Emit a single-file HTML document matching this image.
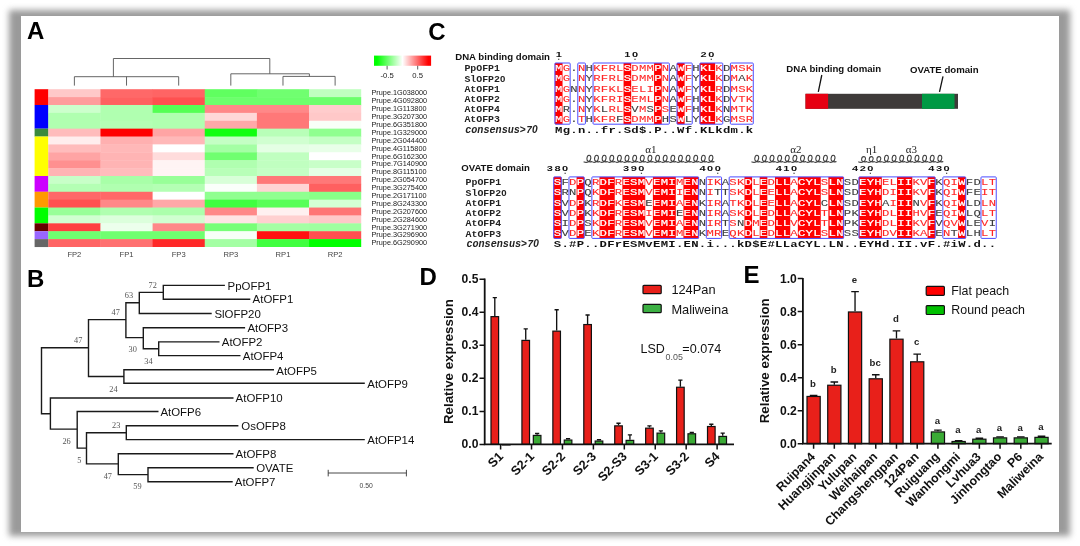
<!DOCTYPE html>
<html lang="en"><head><meta charset="utf-8"><title>Figure</title>
<style>html,body{margin:0;padding:0;background:#fff;}body{width:1080px;height:546px;overflow:hidden;position:relative;}#shadow{position:absolute;left:8.6px;top:10.4px;width:1061.6px;height:525.6px;background:#9a9a9a;filter:blur(3px);}#card{position:absolute;left:20.6px;top:15.8px;width:1038.6px;height:515.8px;background:#fff;}svg{position:absolute;left:0;top:0;display:block;}</style></head><body>
<div id="shadow"></div><div id="card"></div>
<svg width="1080" height="546" viewBox="0 0 1080 546">
<defs><linearGradient id="hmgrad" x1="0" x2="1" y1="0" y2="0"><stop offset="0" stop-color="#00ff00"/><stop offset="0.05" stop-color="#00ff00"/><stop offset="0.5" stop-color="#ffffff"/><stop offset="0.95" stop-color="#ff0000"/><stop offset="1" stop-color="#ff0000"/></linearGradient></defs>
<g id="panelA">
<text x="27" y="39.4" font-family='"Liberation Sans", Arial, Helvetica, sans-serif' font-weight="bold" font-size="24">A</text>
<rect x="34.6" y="89.2" width="13.9" height="15.83" fill="#ff0000"/>
<rect x="34.6" y="104.98" width="13.9" height="23.72" fill="#0000ff"/>
<rect x="34.6" y="128.65" width="13.9" height="7.94" fill="#3a8a3c"/>
<rect x="34.6" y="136.54" width="13.9" height="39.5" fill="#ffff00"/>
<rect x="34.6" y="175.99" width="13.9" height="15.83" fill="#cc00ff"/>
<rect x="34.6" y="191.77" width="13.9" height="15.83" fill="#ff9900"/>
<rect x="34.6" y="207.55" width="13.9" height="15.83" fill="#00ff00"/>
<rect x="34.6" y="223.33" width="13.9" height="7.94" fill="#660000"/>
<rect x="34.6" y="231.22" width="13.9" height="7.94" fill="#9966ff"/>
<rect x="34.6" y="239.11" width="13.9" height="7.94" fill="#666666"/>
<rect x="48.3" y="89.2" width="52.55" height="8.29" fill="#ffc8c8"/>
<rect x="100.45" y="89.2" width="52.55" height="8.29" fill="#ff6868"/>
<rect x="152.6" y="89.2" width="52.55" height="8.29" fill="#ff6464"/>
<rect x="204.75" y="89.2" width="52.55" height="8.29" fill="#60ff60"/>
<rect x="256.9" y="89.2" width="52.55" height="8.29" fill="#70ff70"/>
<rect x="309.05" y="89.2" width="52.15" height="8.29" fill="#c0ffc0"/>
<rect x="48.3" y="97.09" width="52.55" height="8.29" fill="#ff9c9c"/>
<rect x="100.45" y="97.09" width="52.55" height="8.29" fill="#ff6060"/>
<rect x="152.6" y="97.09" width="52.55" height="8.29" fill="#ff5050"/>
<rect x="204.75" y="97.09" width="52.55" height="8.29" fill="#6cff6c"/>
<rect x="256.9" y="97.09" width="52.55" height="8.29" fill="#6cff6c"/>
<rect x="309.05" y="97.09" width="52.15" height="8.29" fill="#6cff6c"/>
<rect x="48.3" y="104.98" width="52.55" height="8.29" fill="#ccffcc"/>
<rect x="100.45" y="104.98" width="52.55" height="8.29" fill="#b0ffb0"/>
<rect x="152.6" y="104.98" width="52.55" height="8.29" fill="#55ff55"/>
<rect x="204.75" y="104.98" width="52.55" height="8.29" fill="#ff8888"/>
<rect x="256.9" y="104.98" width="52.55" height="8.29" fill="#ff8888"/>
<rect x="309.05" y="104.98" width="52.15" height="8.29" fill="#ffcccc"/>
<rect x="48.3" y="112.87" width="52.55" height="8.29" fill="#b0ffb0"/>
<rect x="100.45" y="112.87" width="52.55" height="8.29" fill="#b0ffb0"/>
<rect x="152.6" y="112.87" width="52.55" height="8.29" fill="#b0ffb0"/>
<rect x="204.75" y="112.87" width="52.55" height="8.29" fill="#ffd8d8"/>
<rect x="256.9" y="112.87" width="52.55" height="8.29" fill="#ff7878"/>
<rect x="309.05" y="112.87" width="52.15" height="8.29" fill="#ffc8c8"/>
<rect x="48.3" y="120.76" width="52.55" height="8.29" fill="#b0ffb0"/>
<rect x="100.45" y="120.76" width="52.55" height="8.29" fill="#b4ffb4"/>
<rect x="152.6" y="120.76" width="52.55" height="8.29" fill="#b0ffb0"/>
<rect x="204.75" y="120.76" width="52.55" height="8.29" fill="#ffa8a8"/>
<rect x="256.9" y="120.76" width="52.55" height="8.29" fill="#ff7878"/>
<rect x="309.05" y="120.76" width="52.15" height="8.29" fill="#f8fff8"/>
<rect x="48.3" y="128.65" width="52.55" height="8.29" fill="#ffbcbc"/>
<rect x="100.45" y="128.65" width="52.55" height="8.29" fill="#ff0000"/>
<rect x="152.6" y="128.65" width="52.55" height="8.29" fill="#ffa4a4"/>
<rect x="204.75" y="128.65" width="52.55" height="8.29" fill="#10ff10"/>
<rect x="256.9" y="128.65" width="52.55" height="8.29" fill="#b8ffb8"/>
<rect x="309.05" y="128.65" width="52.15" height="8.29" fill="#90ff90"/>
<rect x="48.3" y="136.54" width="52.55" height="8.29" fill="#ffeeee"/>
<rect x="100.45" y="136.54" width="52.55" height="8.29" fill="#ffb0b0"/>
<rect x="152.6" y="136.54" width="52.55" height="8.29" fill="#ffb8b8"/>
<rect x="204.75" y="136.54" width="52.55" height="8.29" fill="#c4ffc4"/>
<rect x="256.9" y="136.54" width="52.55" height="8.29" fill="#d0ffd0"/>
<rect x="309.05" y="136.54" width="52.15" height="8.29" fill="#c4ffc4"/>
<rect x="48.3" y="144.43" width="52.55" height="8.29" fill="#ffbcbc"/>
<rect x="100.45" y="144.43" width="52.55" height="8.29" fill="#ffb8b8"/>
<rect x="152.6" y="144.43" width="52.55" height="8.29" fill="#ffffff"/>
<rect x="204.75" y="144.43" width="52.55" height="8.29" fill="#a4ffa4"/>
<rect x="256.9" y="144.43" width="52.55" height="8.29" fill="#e4ffe4"/>
<rect x="309.05" y="144.43" width="52.15" height="8.29" fill="#e8ffe8"/>
<rect x="48.3" y="152.32" width="52.55" height="8.29" fill="#ffa4a4"/>
<rect x="100.45" y="152.32" width="52.55" height="8.29" fill="#ffb4b4"/>
<rect x="152.6" y="152.32" width="52.55" height="8.29" fill="#ffdcdc"/>
<rect x="204.75" y="152.32" width="52.55" height="8.29" fill="#70ff70"/>
<rect x="256.9" y="152.32" width="52.55" height="8.29" fill="#c0ffc0"/>
<rect x="309.05" y="152.32" width="52.15" height="8.29" fill="#ffffff"/>
<rect x="48.3" y="160.21" width="52.55" height="8.29" fill="#ff9090"/>
<rect x="100.45" y="160.21" width="52.55" height="8.29" fill="#ffb4b4"/>
<rect x="152.6" y="160.21" width="52.55" height="8.29" fill="#fff4f4"/>
<rect x="204.75" y="160.21" width="52.55" height="8.29" fill="#b0ffb0"/>
<rect x="256.9" y="160.21" width="52.55" height="8.29" fill="#c0ffc0"/>
<rect x="309.05" y="160.21" width="52.15" height="8.29" fill="#c8ffc8"/>
<rect x="48.3" y="168.1" width="52.55" height="8.29" fill="#ffb4b4"/>
<rect x="100.45" y="168.1" width="52.55" height="8.29" fill="#ffbcbc"/>
<rect x="152.6" y="168.1" width="52.55" height="8.29" fill="#fff4f4"/>
<rect x="204.75" y="168.1" width="52.55" height="8.29" fill="#b8ffb8"/>
<rect x="256.9" y="168.1" width="52.55" height="8.29" fill="#c4ffc4"/>
<rect x="309.05" y="168.1" width="52.15" height="8.29" fill="#e4ffe4"/>
<rect x="48.3" y="175.99" width="52.55" height="8.29" fill="#c8ffc8"/>
<rect x="100.45" y="175.99" width="52.55" height="8.29" fill="#a8ffa8"/>
<rect x="152.6" y="175.99" width="52.55" height="8.29" fill="#98ff98"/>
<rect x="204.75" y="175.99" width="52.55" height="8.29" fill="#d8ffd8"/>
<rect x="256.9" y="175.99" width="52.55" height="8.29" fill="#ff7878"/>
<rect x="309.05" y="175.99" width="52.15" height="8.29" fill="#ff7878"/>
<rect x="48.3" y="183.88" width="52.55" height="8.29" fill="#b4ffb4"/>
<rect x="100.45" y="183.88" width="52.55" height="8.29" fill="#b0ffb0"/>
<rect x="152.6" y="183.88" width="52.55" height="8.29" fill="#b4ffb4"/>
<rect x="204.75" y="183.88" width="52.55" height="8.29" fill="#fafffa"/>
<rect x="256.9" y="183.88" width="52.55" height="8.29" fill="#ffd4d4"/>
<rect x="309.05" y="183.88" width="52.15" height="8.29" fill="#ff6060"/>
<rect x="48.3" y="191.77" width="52.55" height="8.29" fill="#ff6868"/>
<rect x="100.45" y="191.77" width="52.55" height="8.29" fill="#ff6868"/>
<rect x="152.6" y="191.77" width="52.55" height="8.29" fill="#ffffff"/>
<rect x="204.75" y="191.77" width="52.55" height="8.29" fill="#90ff90"/>
<rect x="256.9" y="191.77" width="52.55" height="8.29" fill="#90ff90"/>
<rect x="309.05" y="191.77" width="52.15" height="8.29" fill="#88ff88"/>
<rect x="48.3" y="199.66" width="52.55" height="8.29" fill="#ff5050"/>
<rect x="100.45" y="199.66" width="52.55" height="8.29" fill="#ff8888"/>
<rect x="152.6" y="199.66" width="52.55" height="8.29" fill="#ffa8a8"/>
<rect x="204.75" y="199.66" width="52.55" height="8.29" fill="#40ff40"/>
<rect x="256.9" y="199.66" width="52.55" height="8.29" fill="#58ff58"/>
<rect x="309.05" y="199.66" width="52.15" height="8.29" fill="#d4ffd4"/>
<rect x="48.3" y="207.55" width="52.55" height="8.29" fill="#98ff98"/>
<rect x="100.45" y="207.55" width="52.55" height="8.29" fill="#b0ffb0"/>
<rect x="152.6" y="207.55" width="52.55" height="8.29" fill="#acffac"/>
<rect x="204.75" y="207.55" width="52.55" height="8.29" fill="#ff8888"/>
<rect x="256.9" y="207.55" width="52.55" height="8.29" fill="#fff0f0"/>
<rect x="309.05" y="207.55" width="52.15" height="8.29" fill="#ff7474"/>
<rect x="48.3" y="215.44" width="52.55" height="8.29" fill="#d0ffd0"/>
<rect x="100.45" y="215.44" width="52.55" height="8.29" fill="#dcffdc"/>
<rect x="152.6" y="215.44" width="52.55" height="8.29" fill="#d0ffd0"/>
<rect x="204.75" y="215.44" width="52.55" height="8.29" fill="#ffe4e4"/>
<rect x="256.9" y="215.44" width="52.55" height="8.29" fill="#ffd0d0"/>
<rect x="309.05" y="215.44" width="52.15" height="8.29" fill="#ffc8c8"/>
<rect x="48.3" y="223.33" width="52.55" height="8.29" fill="#ff4040"/>
<rect x="100.45" y="223.33" width="52.55" height="8.29" fill="#ecffec"/>
<rect x="152.6" y="223.33" width="52.55" height="8.29" fill="#ff8888"/>
<rect x="204.75" y="223.33" width="52.55" height="8.29" fill="#78ff78"/>
<rect x="256.9" y="223.33" width="52.55" height="8.29" fill="#a4ffa4"/>
<rect x="309.05" y="223.33" width="52.15" height="8.29" fill="#a0ffa0"/>
<rect x="48.3" y="231.22" width="52.55" height="8.29" fill="#70ff70"/>
<rect x="100.45" y="231.22" width="52.55" height="8.29" fill="#70ff70"/>
<rect x="152.6" y="231.22" width="52.55" height="8.29" fill="#70ff70"/>
<rect x="204.75" y="231.22" width="52.55" height="8.29" fill="#f8fff8"/>
<rect x="256.9" y="231.22" width="52.55" height="8.29" fill="#ff1010"/>
<rect x="309.05" y="231.22" width="52.15" height="8.29" fill="#ff5050"/>
<rect x="48.3" y="239.11" width="52.55" height="7.89" fill="#ff6464"/>
<rect x="100.45" y="239.11" width="52.55" height="7.89" fill="#ff7070"/>
<rect x="152.6" y="239.11" width="52.55" height="7.89" fill="#ff2828"/>
<rect x="204.75" y="239.11" width="52.55" height="7.89" fill="#a4ffa4"/>
<rect x="256.9" y="239.11" width="52.55" height="7.89" fill="#40ff40"/>
<rect x="309.05" y="239.11" width="52.15" height="7.89" fill="#00ff00"/>
<g font-family='"Liberation Sans", Arial, Helvetica, sans-serif' font-size="7.3" fill="#1a1a1a">
<text x="371.5" y="95.45">Prupe.1G038000</text>
<text x="371.5" y="103.34">Prupe.4G092800</text>
<text x="371.5" y="111.23">Prupe.1G113800</text>
<text x="371.5" y="119.12">Prupe.3G207300</text>
<text x="371.5" y="127.01">Prupe.6G351800</text>
<text x="371.5" y="134.9">Prupe.1G329000</text>
<text x="371.5" y="142.79">Prupe.2G044400</text>
<text x="371.5" y="150.68">Prupe.4G115800</text>
<text x="371.5" y="158.57">Prupe.6G162300</text>
<text x="371.5" y="166.46">Prupe.7G140900</text>
<text x="371.5" y="174.35">Prupe.8G115100</text>
<text x="371.5" y="182.24">Prupe.2G054700</text>
<text x="371.5" y="190.13">Prupe.3G275400</text>
<text x="371.5" y="198.02">Prupe.2G171100</text>
<text x="371.5" y="205.91">Prupe.8G243300</text>
<text x="371.5" y="213.8">Prupe.2G207600</text>
<text x="371.5" y="221.69">Prupe.2G284600</text>
<text x="371.5" y="229.58">Prupe.3G271900</text>
<text x="371.5" y="237.47">Prupe.3G296900</text>
<text x="371.5" y="245.36">Prupe.6G290900</text>
</g>
<g font-family='"Liberation Sans", Arial, Helvetica, sans-serif' font-size="7.6" fill="#444" text-anchor="middle">
<text x="74.38" y="257.3">FP2</text>
<text x="126.52" y="257.3">FP1</text>
<text x="178.68" y="257.3">FP3</text>
<text x="230.82" y="257.3">RP3</text>
<text x="282.97" y="257.3">RP1</text>
<text x="335.12" y="257.3">RP2</text>
</g>
<path d="M74.38,85.6V76.7H178.68V85.6M126.52,85.6V76.7M113.4,76.7V58.5H269.8V73.8M230.82,85.6V73.8H309.4V76.4M282.97,85.6V76.4H335.12V85.6" fill="none" stroke="#555" stroke-width="0.9"/>
<rect x="374" y="55.6" width="57.1" height="10.2" fill="url(#hmgrad)"/>
<path d="M387.1,65.8V69.5M417.7,65.8V69.5" stroke="#333" stroke-width="0.8"/>
<g font-family='"Liberation Sans", Arial, Helvetica, sans-serif' font-size="7.7" fill="#222" text-anchor="middle"><text x="387.2" y="77.9">-0.5</text><text x="417.7" y="77.9">0.5</text></g>
</g>
<g id="panelB">
<text x="27" y="286.8" font-family='"Liberation Sans", Arial, Helvetica, sans-serif' font-weight="bold" font-size="24">B</text>
<path d="M163.3,285.4H224.2M163.3,299.3H249.6M139.3,313.5H211M143.3,327.8H244.4M158.7,341.9H218.8M158.7,355.6H239.8M123.9,369.8H273.3M123.9,383.3H364.1M50.4,398H232.8M77.2,411.5H157.8M126.3,425.7H237.7M126.3,439.6H364.1M118.3,453.7H232.8M148,467.8H253M148,481.7H232M163.3,285.4V299.3M139.3,292.4H163.3M139.3,292.4V313.5M125.9,302.8H139.3M125.9,302.8V337.6M125.9,337.6H143.3M143.3,327.8V348.7M143.3,348.7H158.7M158.7,341.9V355.6M88.5,319.6H125.9M88.5,319.6V376.5M88.5,376.5H123.9M123.9,369.8V383.3M41.5,347.8H88.5M41.5,347.8V413.7M41.5,413.7H50.4M50.4,398V429.1M50.4,429.1H77.2M77.2,411.5V448.1M77.2,448.1H86.5M86.5,432.7V463.9M86.5,432.7H126.3M126.3,425.7V439.6M86.5,463.9H118.3M118.3,453.7V474.6M118.3,474.6H148M148,467.8V481.7" fill="none" stroke="#1a1a1a" stroke-width="1.4" stroke-linecap="square"/>
<g font-family='"Liberation Sans", Arial, Helvetica, sans-serif' font-size="11.45" fill="#111">
<text x="227.6" y="289.5">PpOFP1</text>
<text x="252.6" y="303.4">AtOFP1</text>
<text x="214.4" y="317.6">SlOFP20</text>
<text x="247.4" y="331.9">AtOFP3</text>
<text x="221.8" y="346">AtOFP2</text>
<text x="242.8" y="359.7">AtOFP4</text>
<text x="276.3" y="374.7">AtOFP5</text>
<text x="367.3" y="388.2">AtOFP9</text>
<text x="235.6" y="402.1">AtOFP10</text>
<text x="160.4" y="415.6">AtOFP6</text>
<text x="241.3" y="429.8">OsOFP8</text>
<text x="367.3" y="443.7">AtOFP14</text>
<text x="235.6" y="457.8">AtOFP8</text>
<text x="256.2" y="471.9">OVATE</text>
<text x="234.8" y="485.8">AtOFP7</text>
</g>
<g font-family='"Liberation Serif", "Times New Roman", serif' font-size="8.3" fill="#555">
<text x="148.5" y="287.6">72</text>
<text x="124.8" y="297.8">63</text>
<text x="111.5" y="315.4">47</text>
<text x="74.1" y="343.1">47</text>
<text x="128.5" y="352.4">30</text>
<text x="144.3" y="363.5">34</text>
<text x="109.3" y="391.5">24</text>
<text x="112" y="428.1">23</text>
<text x="62.4" y="444.3">26</text>
<text x="77.2" y="462.6">5</text>
<text x="103.7" y="478.5">47</text>
<text x="133.3" y="489.1">59</text>
</g>
<path d="M328.2,473H406.4M328.2,469.8V476.4M406.4,469.8V476.4" fill="none" stroke="#333" stroke-width="0.9"/>
<text x="366.2" y="487.6" text-anchor="middle" font-family='"Liberation Sans", Arial, Helvetica, sans-serif' font-size="6.8" fill="#444">0.50</text>
</g>
<g id="panelC">
<text x="428.3" y="40" font-family='"Liberation Sans", Arial, Helvetica, sans-serif' font-weight="bold" font-size="24">C</text>
<rect x="554.9" y="63" width="7.63" height="61.2" fill="#f00"/>
<rect x="623.57" y="63" width="7.63" height="61.2" fill="#f00"/>
<rect x="654.09" y="63" width="7.63" height="61.2" fill="#f00"/>
<rect x="676.98" y="63" width="7.63" height="61.2" fill="#f00"/>
<rect x="699.87" y="63" width="15.26" height="61.2" fill="#f00"/>
<g transform="scale(1.32,1)" font-family='"Liberation Mono", "Courier New", monospace' font-weight="normal" font-size="9.3" fill="#fff" stroke="#fff" stroke-width="0.22" text-anchor="middle">
<text x="423.27 475.29 498.41 515.75 533.09 538.87" y="71.3">MSPWKL</text>
<text x="423.27 475.29 498.41 515.75 533.09 538.87" y="81.5">MSPWKL</text>
<text x="423.27 475.29 498.41 515.75 533.09 538.87" y="91.7">MSPWKL</text>
<text x="423.27 475.29 498.41 515.75 533.09 538.87" y="101.9">MSPWKL</text>
<text x="423.27 475.29 498.41 515.75 533.09 538.87" y="112.1">MSPWKL</text>
<text x="423.27 475.29 498.41 515.75 533.09 538.87" y="122.3">MSPWKL</text>
</g>
<g transform="scale(1.32,1)" font-family='"Liberation Mono", "Courier New", monospace' font-weight="normal" font-size="9.3" fill="#ff2626" stroke="#ff2626" stroke-width="0.08" text-anchor="middle">
<text x="429.05 440.61 452.17 457.95 463.73 469.51 481.07 486.85 492.63 504.19 521.53 544.66 556.22 562 567.78" y="71.3">GNKFRLDMMNFKMSK</text>
<text x="429.05 440.61 452.17 457.95 463.73 469.51 481.07 486.85 492.63 504.19 521.53 544.66 556.22 567.78" y="81.5">GNRFRLDMMNFKMK</text>
<text x="429.05 440.61 452.17 457.95 463.73 469.51 481.07 486.85 492.63 504.19 521.53 544.66 556.22 562 567.78" y="91.7">GNRFKLELINFRMSK</text>
<text x="429.05 440.61 452.17 457.95 463.73 469.51 481.07 486.85 492.63 504.19 521.53 544.66 556.22 562 567.78" y="101.9">GNKFRIEMLNFKVTK</text>
<text x="440.61 452.17 463.73 469.51 486.85 504.19 521.53 544.66 556.22 562 567.78" y="112.1">NKRLMSFKMTK</text>
<text x="429.05 440.61 452.17 457.95 463.73 481.07 486.85 492.63 544.66 556.22 562 567.78" y="122.3">GTKFRDMMKMSR</text>
</g>
<g transform="scale(1.32,1)" font-family='"Liberation Mono", "Courier New", monospace' font-weight="normal" font-size="9.3" fill="#3c3c3c" stroke="#3c3c3c" stroke-width="0.08" text-anchor="middle">
<text x="434.83 446.39 509.97 527.31 550.44" y="71.3">.HAHD</text>
<text x="434.83 446.39 509.97 527.31 550.44 562" y="81.5">.YAYDA</text>
<text x="434.83 446.39 509.97 527.31 550.44" y="91.7">NYAYD</text>
<text x="434.83 446.39 509.97 527.31 550.44" y="101.9">.YAHD</text>
<text x="429.05 434.83 446.39 457.95 481.07 492.63 509.97 527.31 550.44" y="112.1">R.YLVSEHN</text>
<text x="434.83 446.39 469.51 504.19 509.97 521.53 527.31 550.44" y="122.3">.HFHSLYG</text>
</g>
<text transform="scale(1.32,1)" x="423.27 429.05 434.83 440.61 446.39 452.17 457.95 463.73 469.51 475.29 481.07 486.85 492.63 498.41 504.19 509.97 515.75 521.53 527.31 533.09 538.87 544.66 550.44 556.22 562 567.78" y="133.2" font-family='"Liberation Mono", "Courier New", monospace' font-weight="bold" font-size="9.3" fill="#111" text-anchor="middle">Mg.n..fr.Sd$.P..Wf.KLkdm.k</text>
<rect x="554.9" y="63" width="15.26" height="61.2" fill="none" stroke="#4c4cff" stroke-width="1" rx="0.8"/>
<rect x="577.79" y="63" width="7.63" height="61.2" fill="none" stroke="#4c4cff" stroke-width="1" rx="0.8"/>
<rect x="593.05" y="63" width="76.3" height="61.2" fill="none" stroke="#4c4cff" stroke-width="1" rx="0.8"/>
<rect x="676.98" y="63" width="15.26" height="61.2" fill="none" stroke="#4c4cff" stroke-width="1" rx="0.8"/>
<rect x="699.87" y="63" width="22.89" height="61.2" fill="none" stroke="#4c4cff" stroke-width="1" rx="0.8"/>
<rect x="730.39" y="63" width="22.89" height="61.2" fill="none" stroke="#4c4cff" stroke-width="1" rx="0.8"/>
<g font-family='"Liberation Mono", "Courier New", monospace' font-weight="bold" font-size="9.9" fill="#222">
<text x="464.4" y="71.4">PpOFP1</text>
<text x="464.4" y="81.6">SlOFP2<tspan font-family='"Liberation Sans", Arial, Helvetica, sans-serif' font-size='9.6'>0</tspan></text>
<text x="464.4" y="91.8">AtOFP1</text>
<text x="464.4" y="102">AtOFP2</text>
<text x="464.4" y="112.2">AtOFP4</text>
<text x="464.4" y="122.4">AtOFP3</text>
<text x="465.2" y="133" font-style="italic" font-size="10.15">consensus&gt;7<tspan font-family='"Liberation Sans", Arial, Helvetica, sans-serif'>0</tspan></text>
</g>
<text x="455.2" y="59.5" font-family='"Liberation Sans", Arial, Helvetica, sans-serif' font-weight="bold" font-size="9.63" fill="#111">DNA binding domain</text>
<g transform="scale(1.75,1)" font-family='"Liberation Sans", Arial, Helvetica, sans-serif' font-weight="bold" font-size="6.3" fill="#111" text-anchor="middle">
<text x="319.27" y="56.6">1</text>
<text x="358.51 362.87" y="56.6">10</text>
<text x="402.11 406.47" y="56.6">20</text>
</g>
<path d="M558.12,59.2h1.2M634.41,59.2h1.2M710.71,59.2h1.2" stroke="#111" stroke-width="1.1"/>
<rect x="553.7" y="176.9" width="7.63" height="61.5" fill="#f00"/>
<rect x="576.59" y="176.9" width="7.63" height="61.5" fill="#f00"/>
<rect x="599.48" y="176.9" width="15.26" height="61.5" fill="#f00"/>
<rect x="622.37" y="176.9" width="22.89" height="61.5" fill="#f00"/>
<rect x="652.89" y="176.9" width="22.89" height="61.5" fill="#f00"/>
<rect x="683.41" y="176.9" width="15.26" height="61.5" fill="#f00"/>
<rect x="744.45" y="176.9" width="7.63" height="61.5" fill="#f00"/>
<rect x="759.71" y="176.9" width="7.63" height="61.5" fill="#f00"/>
<rect x="774.97" y="176.9" width="15.26" height="61.5" fill="#f00"/>
<rect x="797.86" y="176.9" width="22.89" height="61.5" fill="#f00"/>
<rect x="828.38" y="176.9" width="15.26" height="61.5" fill="#f00"/>
<rect x="858.9" y="176.9" width="22.89" height="61.5" fill="#f00"/>
<rect x="897.05" y="176.9" width="15.26" height="61.5" fill="#f00"/>
<rect x="927.57" y="176.9" width="7.63" height="61.5" fill="#f00"/>
<rect x="958.09" y="176.9" width="7.63" height="61.5" fill="#f00"/>
<g transform="scale(1.32,1)" font-family='"Liberation Mono", "Courier New", monospace' font-weight="normal" font-size="9.3" fill="#fff" stroke="#fff" stroke-width="0.22" text-anchor="middle">
<text x="422.36 439.7 457.04 462.82 474.38 480.16 485.94 497.5 503.28 509.06 520.62 526.41 566.87 578.43 589.99 595.77 607.33 613.11 618.89 630.45 636.23 653.57 659.35 665.13 682.47 688.25 705.59 728.72" y="185.2">SPDFESMEMIENDELLCYLLNEYHIIFW</text>
<text x="422.36 439.7 457.04 462.82 474.38 480.16 485.94 497.5 503.28 509.06 520.62 526.41 566.87 578.43 589.99 595.77 607.33 613.11 618.89 630.45 636.23 653.57 659.35 665.13 682.47 688.25 705.59 728.72" y="195.45">SPDFESMEMIENDELLCYLLNEYHIIFW</text>
<text x="422.36 439.7 457.04 462.82 474.38 480.16 485.94 497.5 503.28 509.06 520.62 526.41 566.87 578.43 589.99 595.77 607.33 613.11 618.89 630.45 636.23 653.57 659.35 665.13 682.47 688.25 705.59 728.72" y="205.7">SPDFESMEMIENDELLCYLLNEYHIIFW</text>
<text x="422.36 439.7 457.04 462.82 474.38 480.16 485.94 497.5 503.28 509.06 520.62 526.41 566.87 578.43 589.99 595.77 607.33 613.11 618.89 630.45 636.23 653.57 659.35 665.13 682.47 688.25 705.59 728.72" y="215.95">SPDFESMEMIENDELLCYLLNEYHIIFW</text>
<text x="422.36 439.7 457.04 462.82 474.38 480.16 485.94 497.5 503.28 509.06 520.62 526.41 566.87 578.43 589.99 595.77 607.33 613.11 618.89 630.45 636.23 653.57 659.35 665.13 682.47 688.25 705.59 728.72" y="226.2">SPDFESMEMIENDELLCYLLNEYHIIFW</text>
<text x="422.36 439.7 457.04 462.82 474.38 480.16 485.94 497.5 503.28 509.06 520.62 526.41 566.87 578.43 589.99 595.77 607.33 613.11 618.89 630.45 636.23 653.57 659.35 665.13 682.47 688.25 705.59 728.72" y="236.45">SPDFESMEMIENDELLCYLLNEYHIIFW</text>
</g>
<g transform="scale(1.32,1)" font-family='"Liberation Mono", "Courier New", monospace' font-weight="normal" font-size="9.3" fill="#ff2626" stroke="#ff2626" stroke-width="0.08" text-anchor="middle">
<text x="433.92 451.26 468.6 491.72 514.84 537.97 543.75 555.31 561.09 572.65 584.21 601.55 624.67 670.91 676.69 694.03 699.81 717.16 722.94 746.06 751.84" y="185.2">DRRVMIKSKLDASELKVQILT</text>
<text x="451.26 468.6 491.72 514.84 537.97 555.31 561.09 572.65 584.21 601.55 624.67 670.91 676.69 694.03 699.81 717.16 722.94 746.06 751.84" y="195.45">KRVIISKLEASDIKVQIIT</text>
<text x="433.92 451.26 468.6 514.84 537.97 543.75 555.31 561.09 572.65 584.21 601.55 676.69 699.81 717.16 722.94 746.06 751.84" y="205.7">DRKAIRTKLEAIVQILN</text>
<text x="433.92 451.26 468.6 491.72 537.97 543.75 555.31 561.09 572.65 584.21 601.55 624.67 670.91 676.69 694.03 699.81 717.16 722.94 746.06 751.84" y="215.95">DKRIIRSKLDATDLHVQILT</text>
<text x="433.92 451.26 468.6 491.72 514.84 537.97 543.75 555.31 572.65 584.21 601.55 624.67 670.91 676.69 694.03 699.81 717.16 722.94 746.06" y="226.2">DKRVAIRSMDVTDLKVQVV</text>
<text x="433.92 451.26 468.6 491.72 514.84 537.97 543.75 555.31 561.09 572.65 584.21 601.55 624.67 670.91 676.69 694.03 699.81 717.16 746.06 751.84" y="236.45">DKRVMMRQKLDASDVKANLT</text>
</g>
<g transform="scale(1.32,1)" font-family='"Liberation Mono", "Courier New", monospace' font-weight="normal" font-size="9.3" fill="#3c3c3c" stroke="#3c3c3c" stroke-width="0.08" text-anchor="middle">
<text x="428.14 445.48 532.19 549.53 642.01 647.79 711.38 734.5 740.28" y="185.2">FQNASDKFD</text>
<text x="428.14 433.92 445.48 532.19 543.75 549.53 642.01 647.79 711.38 734.5 740.28" y="195.45">RNQNTTSDKFE</text>
<text x="428.14 445.48 491.72 532.19 549.53 624.67 642.01 647.79 670.91 694.03 711.38 734.5 740.28" y="205.7">VKEKACSDANKLD</text>
<text x="428.14 445.48 514.84 532.19 549.53 642.01 647.79 711.38 734.5 740.28" y="215.95">VKENAPKELQ</text>
<text x="428.14 445.48 532.19 549.53 561.09 642.01 647.79 711.38 734.5 740.28 751.84" y="226.2">ISNTNPKVLEI</text>
<text x="428.14 445.48 532.19 549.53 642.01 647.79 711.38 722.94 734.5 740.28" y="236.45">VEKESSETLH</text>
</g>
<text transform="scale(1.32,1)" x="422.36 428.14 433.92 439.7 445.48 451.26 457.04 462.82 468.6 474.38 480.16 485.94 491.72 497.5 503.28 509.06 514.84 520.62 526.41 532.19 537.97 543.75 549.53 555.31 561.09 566.87 572.65 578.43 584.21 589.99 595.77 601.55 607.33 613.11 618.89 624.67 630.45 636.23 642.01 647.79 653.57 659.35 665.13 670.91 676.69 682.47 688.25 694.03 699.81 705.59 711.38 717.16 722.94 728.72 734.5 740.28 746.06 751.84" y="247.4" font-family='"Liberation Mono", "Courier New", monospace' font-weight="bold" font-size="9.3" fill="#111" text-anchor="middle">S.#P..DFrESMvEMI.EN.i...kD$E#LLaCYL.LN..EYHd.II.vF.#iW.d..</text>
<rect x="553.7" y="176.9" width="7.63" height="61.5" fill="none" stroke="#4c4cff" stroke-width="1" rx="0.8"/>
<rect x="568.96" y="176.9" width="15.26" height="61.5" fill="none" stroke="#4c4cff" stroke-width="1" rx="0.8"/>
<rect x="591.85" y="176.9" width="106.82" height="61.5" fill="none" stroke="#4c4cff" stroke-width="1" rx="0.8"/>
<rect x="706.3" y="176.9" width="15.26" height="61.5" fill="none" stroke="#4c4cff" stroke-width="1" rx="0.8"/>
<rect x="729.19" y="176.9" width="114.45" height="61.5" fill="none" stroke="#4c4cff" stroke-width="1" rx="0.8"/>
<rect x="858.9" y="176.9" width="76.3" height="61.5" fill="none" stroke="#4c4cff" stroke-width="1" rx="0.8"/>
<rect x="942.83" y="176.9" width="22.89" height="61.5" fill="none" stroke="#4c4cff" stroke-width="1" rx="0.8"/>
<rect x="980.98" y="176.9" width="15.26" height="61.5" fill="none" stroke="#4c4cff" stroke-width="1" rx="0.8"/>
<g font-family='"Liberation Mono", "Courier New", monospace' font-weight="bold" font-size="9.9" fill="#222">
<text x="465.6" y="185.3">PpOFP1</text>
<text x="465.6" y="195.55">SlOFP2<tspan font-family='"Liberation Sans", Arial, Helvetica, sans-serif' font-size='9.6'>0</tspan></text>
<text x="465.6" y="205.8">AtOFP1</text>
<text x="465.6" y="216.05">AtOFP2</text>
<text x="465.6" y="226.3">AtOFP4</text>
<text x="465.6" y="236.55">AtOFP3</text>
<text x="466.4" y="247.2" font-style="italic" font-size="10.15">consensus&gt;7<tspan font-family='"Liberation Sans", Arial, Helvetica, sans-serif'>0</tspan></text>
</g>
<text x="461.2" y="171.1" font-family='"Liberation Sans", Arial, Helvetica, sans-serif' font-weight="bold" font-size="9.63" fill="#111">OVATE domain</text>
<g transform="scale(1.75,1)" font-family='"Liberation Sans", Arial, Helvetica, sans-serif' font-weight="bold" font-size="6.3" fill="#111" text-anchor="middle">
<text x="314.22 318.58 322.94" y="170.6">380</text>
<text x="357.82 362.18 366.54" y="170.6">390</text>
<text x="401.42 405.78 410.14" y="170.6">400</text>
<text x="445.02 449.38 453.74" y="170.6">410</text>
<text x="488.62 492.98 497.34" y="170.6">420</text>
<text x="532.22 536.58 540.94" y="170.6">430</text>
</g>
<path d="M564.55,173.2h1.2M640.85,173.2h1.2M717.14,173.2h1.2M793.45,173.2h1.2M869.75,173.2h1.2M946.04,173.2h1.2" stroke="#111" stroke-width="1.1"/>
<path d="M583.62,161.65C586.42,163.15 590.62,162.15 590.82,158.14C591.02,154.15 587.22,154.15 586.92,158.45C586.62,160.95 588.62,162.45 591.85,161.65C594.05,163.15 598.25,162.15 598.45,158.14C598.65,154.15 594.85,154.15 594.55,158.45C594.25,160.95 596.25,162.45 599.48,161.65C601.68,163.15 605.88,162.15 606.08,158.14C606.28,154.15 602.48,154.15 602.18,158.45C601.88,160.95 603.88,162.45 607.11,161.65C609.31,163.15 613.51,162.15 613.71,158.14C613.91,154.15 610.11,154.15 609.81,158.45C609.51,160.95 611.51,162.45 614.74,161.65C616.94,163.15 621.14,162.15 621.34,158.14C621.54,154.15 617.74,154.15 617.44,158.45C617.14,160.95 619.14,162.45 622.37,161.65C624.57,163.15 628.77,162.15 628.97,158.14C629.17,154.15 625.37,154.15 625.07,158.45C624.77,160.95 626.77,162.45 630,161.65C632.2,163.15 636.4,162.15 636.6,158.14C636.8,154.15 633,154.15 632.7,158.45C632.4,160.95 634.4,162.45 637.63,161.65C639.83,163.15 644.03,162.15 644.23,158.14C644.43,154.15 640.63,154.15 640.33,158.45C640.03,160.95 642.03,162.45 645.26,161.65C647.46,163.15 651.66,162.15 651.86,158.14C652.06,154.15 648.26,154.15 647.96,158.45C647.66,160.95 649.66,162.45 652.89,161.65C655.09,163.15 659.29,162.15 659.49,158.14C659.69,154.15 655.89,154.15 655.59,158.45C655.29,160.95 657.29,162.45 660.52,161.65C662.72,163.15 666.92,162.15 667.12,158.14C667.32,154.15 663.52,154.15 663.22,158.45C662.92,160.95 664.92,162.45 668.15,161.65C670.35,163.15 674.55,162.15 674.75,158.14C674.95,154.15 671.15,154.15 670.85,158.45C670.55,160.95 672.55,162.45 675.78,161.65C677.98,163.15 682.18,162.15 682.38,158.14C682.58,154.15 678.78,154.15 678.48,158.45C678.18,160.95 680.18,162.45 683.41,161.65C685.61,163.15 689.81,162.15 690.01,158.14C690.21,154.15 686.41,154.15 686.11,158.45C685.81,160.95 687.81,162.45 691.04,161.65C693.24,163.15 697.44,162.15 697.64,158.14C697.84,154.15 694.04,154.15 693.74,158.45C693.44,160.95 695.44,162.45 698.67,161.65C700.87,163.15 705.07,162.15 705.27,158.14C705.47,154.15 701.67,154.15 701.37,158.45C701.07,160.95 703.07,162.45 706.3,161.65C708.5,163.15 712.7,162.15 712.9,158.14C713.1,154.15 709.3,154.15 709,158.45C708.7,160.95 710.7,162.45 713.93,161.65l0.5,0.1" fill="none" stroke="#404040" stroke-width="1.1"/>
<path d="M751.48,161.65C754.28,163.15 758.48,162.15 758.68,158.14C758.88,154.15 755.08,154.15 754.78,158.45C754.48,160.95 756.48,162.45 759.71,161.65C761.91,163.15 766.11,162.15 766.31,158.14C766.51,154.15 762.71,154.15 762.41,158.45C762.11,160.95 764.11,162.45 767.34,161.65C769.54,163.15 773.74,162.15 773.94,158.14C774.14,154.15 770.34,154.15 770.04,158.45C769.74,160.95 771.74,162.45 774.97,161.65C777.17,163.15 781.37,162.15 781.57,158.14C781.77,154.15 777.97,154.15 777.67,158.45C777.37,160.95 779.37,162.45 782.6,161.65C784.8,163.15 789,162.15 789.2,158.14C789.4,154.15 785.6,154.15 785.3,158.45C785,160.95 787,162.45 790.23,161.65C792.43,163.15 796.63,162.15 796.83,158.14C797.03,154.15 793.23,154.15 792.93,158.45C792.63,160.95 794.63,162.45 797.86,161.65C800.06,163.15 804.26,162.15 804.46,158.14C804.66,154.15 800.86,154.15 800.56,158.45C800.26,160.95 802.26,162.45 805.49,161.65C807.69,163.15 811.89,162.15 812.09,158.14C812.29,154.15 808.49,154.15 808.19,158.45C807.89,160.95 809.89,162.45 813.12,161.65C815.32,163.15 819.52,162.15 819.72,158.14C819.92,154.15 816.12,154.15 815.82,158.45C815.52,160.95 817.52,162.45 820.75,161.65C822.95,163.15 827.15,162.15 827.35,158.14C827.55,154.15 823.75,154.15 823.45,158.45C823.15,160.95 825.15,162.45 828.38,161.65C830.58,163.15 834.78,162.15 834.98,158.14C835.18,154.15 831.38,154.15 831.08,158.45C830.78,160.95 832.78,162.45 836.01,161.65l0.5,0.1" fill="none" stroke="#404040" stroke-width="1.1"/>
<path d="M858.3,161.65C861.1,163.15 865.3,162.15 865.5,159.02C865.7,155.75 861.9,155.75 861.6,159.25C861.3,160.95 863.3,162.45 866.53,161.65C868.73,163.15 872.93,162.15 873.13,159.02C873.33,155.75 869.53,155.75 869.23,159.25C868.93,160.95 870.93,162.45 874.16,161.65C876.36,163.15 880.56,162.15 880.76,159.02C880.96,155.75 877.16,155.75 876.86,159.25C876.56,160.95 878.56,162.45 881.79,161.65" fill="none" stroke="#404040" stroke-width="1.1"/>
<path d="M881.79,161.65C883.99,163.15 888.19,162.15 888.39,158.14C888.59,154.15 884.79,154.15 884.49,158.45C884.19,160.95 886.19,162.45 889.42,161.65C891.62,163.15 895.82,162.15 896.02,158.14C896.22,154.15 892.42,154.15 892.12,158.45C891.82,160.95 893.82,162.45 897.05,161.65C899.25,163.15 903.45,162.15 903.65,158.14C903.85,154.15 900.05,154.15 899.75,158.45C899.45,160.95 901.45,162.45 904.68,161.65C906.88,163.15 911.08,162.15 911.28,158.14C911.48,154.15 907.68,154.15 907.38,158.45C907.08,160.95 909.08,162.45 912.31,161.65C914.51,163.15 918.71,162.15 918.91,158.14C919.11,154.15 915.31,154.15 915.01,158.45C914.71,160.95 916.71,162.45 919.94,161.65C922.14,163.15 926.34,162.15 926.54,158.14C926.74,154.15 922.94,154.15 922.64,158.45C922.34,160.95 924.34,162.45 927.57,161.65C929.77,163.15 933.97,162.15 934.17,158.14C934.37,154.15 930.57,154.15 930.27,158.45C929.97,160.95 931.97,162.45 935.2,161.65C937.4,163.15 941.6,162.15 941.8,158.14C942,154.15 938.2,154.15 937.9,158.45C937.6,160.95 939.6,162.45 942.83,161.65l0.5,0.1" fill="none" stroke="#404040" stroke-width="1.1"/>
<g font-family='"Liberation Serif", "Times New Roman", serif' font-size="11" fill="#222" text-anchor="middle"><text x="650.8" y="152.6">α1</text><text x="796" y="152.6">α2</text><text x="871.7" y="152.6">η1</text><text x="911.5" y="152.6">α3</text></g>
<rect x="805.5" y="93.8" width="152.5" height="15" fill="#3e3a39"/>
<rect x="805.5" y="93.8" width="22.6" height="15" fill="#e60012"/>
<rect x="922" y="93.8" width="32.5" height="15" fill="#009944"/>
<path d="M821.8,75L818.3,91.8M943,76.3L939.5,91.8" stroke="#111" stroke-width="1.3"/>
<g font-family='"Liberation Sans", Arial, Helvetica, sans-serif' font-weight="bold" font-size="9.63" fill="#111"><text x="786.3" y="72.3">DNA binding domain</text><text x="910" y="73.1">OVATE domain</text></g>
</g>
<g id="panelD">
<text x="419.6" y="284.8" font-family='"Liberation Sans", Arial, Helvetica, sans-serif' font-weight="bold" font-size="24">D</text>
<path d="M494.8,316.03V297.55M492.7,297.55h4.2" stroke="#111" stroke-width="1.35" fill="none"/>
<rect x="491" y="316.63" width="7.6" height="127.77" fill="#e8201a" stroke="#111" stroke-width="1.2"/>
<rect x="502.4" y="444.67" width="7.6" height="0.3" fill="#3aaa35" stroke="#111" stroke-width="1.2"/>
<path d="M525.73,339.79V328.9M523.63,328.9h4.2" stroke="#111" stroke-width="1.35" fill="none"/>
<rect x="521.93" y="340.39" width="7.6" height="104.01" fill="#e8201a" stroke="#111" stroke-width="1.2"/>
<path d="M537.13,434.83V433.51M535.03,433.51h4.2" stroke="#111" stroke-width="1.35" fill="none"/>
<rect x="533.33" y="435.43" width="7.6" height="8.97" fill="#3aaa35" stroke="#111" stroke-width="1.2"/>
<path d="M556.66,330.55V309.76M554.56,309.76h4.2" stroke="#111" stroke-width="1.35" fill="none"/>
<rect x="552.86" y="331.15" width="7.6" height="113.25" fill="#e8201a" stroke="#111" stroke-width="1.2"/>
<path d="M568.06,439.45V438.79M565.96,438.79h4.2" stroke="#111" stroke-width="1.35" fill="none"/>
<rect x="564.26" y="440.05" width="7.6" height="4.35" fill="#3aaa35" stroke="#111" stroke-width="1.2"/>
<path d="M587.59,323.95V315.04M585.49,315.04h4.2" stroke="#111" stroke-width="1.35" fill="none"/>
<rect x="583.79" y="324.55" width="7.6" height="119.85" fill="#e8201a" stroke="#111" stroke-width="1.2"/>
<path d="M598.99,440.44V439.78M596.89,439.78h4.2" stroke="#111" stroke-width="1.35" fill="none"/>
<rect x="595.19" y="441.04" width="7.6" height="3.36" fill="#3aaa35" stroke="#111" stroke-width="1.2"/>
<path d="M618.52,425.26V423.28M616.42,423.28h4.2" stroke="#111" stroke-width="1.35" fill="none"/>
<rect x="614.72" y="425.86" width="7.6" height="18.54" fill="#e8201a" stroke="#111" stroke-width="1.2"/>
<path d="M629.92,439.78V434.83M627.82,434.83h4.2" stroke="#111" stroke-width="1.35" fill="none"/>
<rect x="626.12" y="440.38" width="7.6" height="4.02" fill="#3aaa35" stroke="#111" stroke-width="1.2"/>
<path d="M649.45,427.57V425.92M647.35,425.92h4.2" stroke="#111" stroke-width="1.35" fill="none"/>
<rect x="645.65" y="428.17" width="7.6" height="16.23" fill="#e8201a" stroke="#111" stroke-width="1.2"/>
<path d="M660.85,432.52V430.87M658.75,430.87h4.2" stroke="#111" stroke-width="1.35" fill="none"/>
<rect x="657.05" y="433.12" width="7.6" height="11.28" fill="#3aaa35" stroke="#111" stroke-width="1.2"/>
<path d="M680.38,386.65V380.05M678.28,380.05h4.2" stroke="#111" stroke-width="1.35" fill="none"/>
<rect x="676.58" y="387.25" width="7.6" height="57.15" fill="#e8201a" stroke="#111" stroke-width="1.2"/>
<path d="M691.78,433.18V432.52M689.68,432.52h4.2" stroke="#111" stroke-width="1.35" fill="none"/>
<rect x="687.98" y="433.78" width="7.6" height="10.62" fill="#3aaa35" stroke="#111" stroke-width="1.2"/>
<path d="M711.31,425.92V424.27M709.21,424.27h4.2" stroke="#111" stroke-width="1.35" fill="none"/>
<rect x="707.51" y="426.52" width="7.6" height="17.88" fill="#e8201a" stroke="#111" stroke-width="1.2"/>
<path d="M722.71,435.82V433.18M720.61,433.18h4.2" stroke="#111" stroke-width="1.35" fill="none"/>
<rect x="718.91" y="436.42" width="7.6" height="7.98" fill="#3aaa35" stroke="#111" stroke-width="1.2"/>
<path d="M484.7,278.6V444.4H734" fill="none" stroke="#111" stroke-width="1.8" stroke-linejoin="miter"/>
<path d="M484.7,444.4h-5.2M484.7,411.38h-5.2M484.7,378.36h-5.2M484.7,345.34h-5.2M484.7,312.32h-5.2M484.7,279.3h-5.2M500.6,444.4v5M531.53,444.4v5M562.46,444.4v5M593.39,444.4v5M624.32,444.4v5M655.25,444.4v5M686.18,444.4v5M717.11,444.4v5" stroke="#111" stroke-width="1.5" fill="none"/>
<g font-family='"Liberation Sans", Arial, Helvetica, sans-serif' font-weight="bold" font-size="12.1" fill="#111" text-anchor="end">
<text x="478.4" y="448.35">0.0</text>
<text x="478.4" y="415.33">0.1</text>
<text x="478.4" y="382.31">0.2</text>
<text x="478.4" y="349.29">0.3</text>
<text x="478.4" y="316.27">0.4</text>
<text x="478.4" y="283.25">0.5</text>
</g>
<text transform="translate(452.8,361.6) rotate(-90)" text-anchor="middle" font-family='"Liberation Sans", Arial, Helvetica, sans-serif' font-weight="bold" font-size="13.3" fill="#111">Relative expression</text>
<g font-family='"Liberation Sans", Arial, Helvetica, sans-serif' font-weight="bold" font-size="12.7" fill="#111" text-anchor="end">
<text transform="translate(504.1,457.2) rotate(-45)">S1</text>
<text transform="translate(535.03,457.2) rotate(-45)">S2-1</text>
<text transform="translate(565.96,457.2) rotate(-45)">S2-2</text>
<text transform="translate(596.89,457.2) rotate(-45)">S2-3</text>
<text transform="translate(627.82,457.2) rotate(-45)">S2-S3</text>
<text transform="translate(658.75,457.2) rotate(-45)">S3-1</text>
<text transform="translate(689.68,457.2) rotate(-45)">S3-2</text>
<text transform="translate(720.61,457.2) rotate(-45)">S4</text>
</g>
<rect x="643" y="285.3" width="18.2" height="8.4" fill="#e8201a" stroke="#111" stroke-width="1.2" rx="1"/>
<rect x="643" y="304.3" width="18.2" height="8.4" fill="#3cb043" stroke="#111" stroke-width="1.2" rx="1"/>
<g font-family='"Liberation Sans", Arial, Helvetica, sans-serif' font-size="12.8" fill="#111"><text x="671.4" y="294.3">124Pan</text><text x="671.4" y="313.5">Maliweina</text><text x="640.5" y="353.4" font-size="12.5">LSD</text><text x="682.3" y="353.4" font-size="12.6">=0.074</text></g>
<text x="665.6" y="359.9" font-family='"Liberation Sans", Arial, Helvetica, sans-serif' font-size="8.9" fill="#555">0.05</text>
</g>
<g id="panelE">
<text x="743.6" y="283.2" font-family='"Liberation Sans", Arial, Helvetica, sans-serif' font-weight="bold" font-size="24">E</text>
<path d="M813.6,395.85V395.36M809.8,395.36h7.6" stroke="#111" stroke-width="1.35" fill="none"/>
<rect x="807" y="396.45" width="13.2" height="47.25" fill="#e8201a" stroke="#111" stroke-width="1.2"/>
<path d="M834.32,384.63V381.99M830.52,381.99h7.6" stroke="#111" stroke-width="1.35" fill="none"/>
<rect x="827.72" y="385.23" width="13.2" height="58.47" fill="#e8201a" stroke="#111" stroke-width="1.2"/>
<path d="M855.04,311.37V291.57M851.24,291.57h7.6" stroke="#111" stroke-width="1.35" fill="none"/>
<rect x="848.44" y="311.97" width="13.2" height="131.73" fill="#e8201a" stroke="#111" stroke-width="1.2"/>
<path d="M875.76,378.19V374.73M871.96,374.73h7.6" stroke="#111" stroke-width="1.35" fill="none"/>
<rect x="869.16" y="378.8" width="13.2" height="64.91" fill="#e8201a" stroke="#111" stroke-width="1.2"/>
<path d="M896.48,338.59V330.84M892.68,330.84h7.6" stroke="#111" stroke-width="1.35" fill="none"/>
<rect x="889.88" y="339.19" width="13.2" height="104.51" fill="#e8201a" stroke="#111" stroke-width="1.2"/>
<path d="M917.2,361.2V354.1M913.4,354.1h7.6" stroke="#111" stroke-width="1.35" fill="none"/>
<rect x="910.6" y="361.8" width="13.2" height="81.9" fill="#e8201a" stroke="#111" stroke-width="1.2"/>
<path d="M937.92,431.32V430.17M934.12,430.17h7.6" stroke="#111" stroke-width="1.35" fill="none"/>
<rect x="931.32" y="431.93" width="13.2" height="11.78" fill="#3aaa35" stroke="#111" stroke-width="1.2"/>
<path d="M958.64,440.89V440.56M954.84,440.56h7.6" stroke="#111" stroke-width="1.35" fill="none"/>
<rect x="952.04" y="441.5" width="13.2" height="2.21" fill="#3aaa35" stroke="#111" stroke-width="1.2"/>
<path d="M979.36,438.58V438.25M975.56,438.25h7.6" stroke="#111" stroke-width="1.35" fill="none"/>
<rect x="972.76" y="439.19" width="13.2" height="4.52" fill="#3aaa35" stroke="#111" stroke-width="1.2"/>
<path d="M1000.08,437.26V436.94M996.28,436.94h7.6" stroke="#111" stroke-width="1.35" fill="none"/>
<rect x="993.48" y="437.87" width="13.2" height="5.84" fill="#3aaa35" stroke="#111" stroke-width="1.2"/>
<path d="M1020.8,437.26V436.94M1017,436.94h7.6" stroke="#111" stroke-width="1.35" fill="none"/>
<rect x="1014.2" y="437.87" width="13.2" height="5.84" fill="#3aaa35" stroke="#111" stroke-width="1.2"/>
<path d="M1041.52,436.77V436.27M1037.72,436.27h7.6" stroke="#111" stroke-width="1.35" fill="none"/>
<rect x="1034.92" y="437.37" width="13.2" height="6.33" fill="#3aaa35" stroke="#111" stroke-width="1.2"/>
<path d="M802.9,277.90000000000003V443.7H1051.7" fill="none" stroke="#111" stroke-width="1.8"/>
<path d="M802.9,443.7h-5.2M802.9,410.68h-5.2M802.9,377.66h-5.2M802.9,344.64h-5.2M802.9,311.62h-5.2M802.9,278.6h-5.2M813.6,443.7v5M834.32,443.7v5M855.04,443.7v5M875.76,443.7v5M896.48,443.7v5M917.2,443.7v5M937.92,443.7v5M958.64,443.7v5M979.36,443.7v5M1000.08,443.7v5M1020.8,443.7v5M1041.52,443.7v5" stroke="#111" stroke-width="1.5" fill="none"/>
<g font-family='"Liberation Sans", Arial, Helvetica, sans-serif' font-weight="bold" font-size="12.1" fill="#111" text-anchor="end">
<text x="796.8" y="447.65">0.0</text>
<text x="796.8" y="414.63">0.2</text>
<text x="796.8" y="381.61">0.4</text>
<text x="796.8" y="348.59">0.6</text>
<text x="796.8" y="315.57">0.8</text>
<text x="796.8" y="282.55">1.0</text>
</g>
<text transform="translate(769.1,360.8) rotate(-90)" text-anchor="middle" font-family='"Liberation Sans", Arial, Helvetica, sans-serif' font-weight="bold" font-size="13.3" fill="#111">Relative expression</text>
<g font-family='"Liberation Sans", Arial, Helvetica, sans-serif' font-weight="bold" font-size="12.45" fill="#111" text-anchor="end">
<text transform="translate(815.9,457.5) rotate(-45)">Ruipan4</text>
<text transform="translate(836.62,457.5) rotate(-45)">Huangjinpan</text>
<text transform="translate(857.34,457.5) rotate(-45)">Yulupan</text>
<text transform="translate(878.06,457.5) rotate(-45)">Weihaipan</text>
<text transform="translate(898.78,457.5) rotate(-45)">Changshengpan</text>
<text transform="translate(919.5,457.5) rotate(-45)">124Pan</text>
<text transform="translate(940.22,457.5) rotate(-45)">Ruiguang</text>
<text transform="translate(960.94,457.5) rotate(-45)">Wanhongmi</text>
<text transform="translate(981.66,457.5) rotate(-45)">Lvhua3</text>
<text transform="translate(1002.38,457.5) rotate(-45)">Jinhongtao</text>
<text transform="translate(1023.1,457.5) rotate(-45)">P6</text>
<text transform="translate(1043.82,457.5) rotate(-45)">Maliweina</text>
</g>
<g font-family='"Liberation Sans", Arial, Helvetica, sans-serif' font-weight="bold" font-size="9.6" fill="#222" text-anchor="middle">
<text x="813" y="386.9">b</text>
<text x="833.72" y="372.9">b</text>
<text x="854.44" y="283.2">e</text>
<text x="875.16" y="366.2">bc</text>
<text x="895.88" y="322">d</text>
<text x="916.6" y="345.4">c</text>
<text x="937.32" y="424.4">a</text>
<text x="958.04" y="432.5">a</text>
<text x="978.76" y="432.5">a</text>
<text x="999.48" y="431.2">a</text>
<text x="1020.2" y="431.2">a</text>
<text x="1040.92" y="430.4">a</text>
</g>
<rect x="926.2" y="286.4" width="18.2" height="8.9" fill="#ff0000" stroke="#111" stroke-width="1.2" rx="1"/>
<rect x="926.2" y="305.6" width="18.2" height="8.9" fill="#00c000" stroke="#111" stroke-width="1.2" rx="1"/>
<g font-family='"Liberation Sans", Arial, Helvetica, sans-serif' font-size="12.4" fill="#111"><text x="951.3" y="294.8">Flat peach</text><text x="951.3" y="314">Round peach</text></g>
</g>
</svg></body></html>
